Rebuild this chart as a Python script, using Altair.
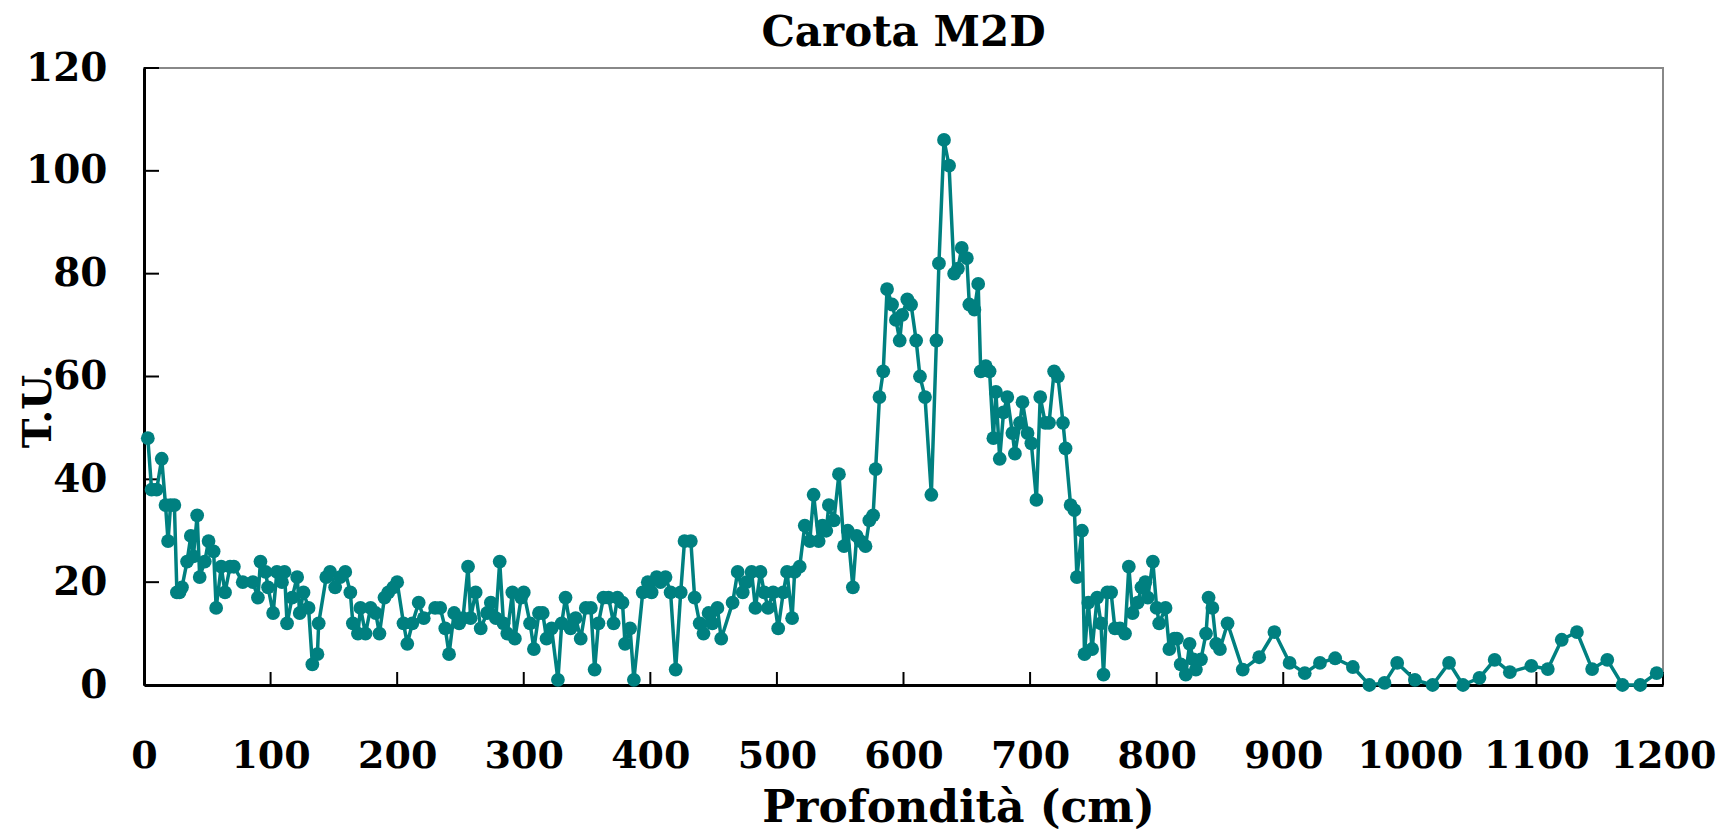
import altair as alt
import pandas as pd

# Depth (cm) and T.U. values, in 100 cm chunks
depth_000 = [3, 6, 10, 14, 17, 19, 21, 24, 26, 28, 30, 34, 37, 39, 42, 44, 48, 51, 55, 57, 61, 64, 68, 71, 78, 86, 90, 92, 96, 98]
tu_000 = [48, 38, 38, 44, 35, 28, 35, 35, 18, 18, 19, 24, 29, 25, 33, 21, 24, 28, 26, 15, 23, 18, 23, 23, 20, 20, 17, 24, 22, 19]
depth_100 = [102, 105, 109, 111, 113, 117, 121, 123, 126, 130, 133, 137, 138, 144, 147, 151, 155, 159, 163, 165, 169, 171, 175, 179, 183, 186, 190, 193, 197]
tu_100 = [14, 22, 20, 22, 12, 17, 21, 14, 18, 15, 4, 6, 12, 21, 22, 19, 21, 22, 18, 12, 10, 15, 10, 15, 14, 10, 17, 18, 19]
depth_200 = [200, 205, 208, 212, 217, 221, 230, 234, 238, 241, 245, 249, 252, 256, 258, 262, 266, 271, 274, 278, 281, 284, 287, 291, 293, 298]
tu_200 = [20, 12, 8, 12, 16, 13, 15, 15, 11, 6, 14, 12, 13, 23, 13, 18, 11, 14, 16, 13, 24, 12, 10, 18, 9, 17]
depth_300 = [300, 305, 308, 312, 315, 318, 322, 327, 330, 333, 337, 341, 345, 349, 353, 356, 359, 363, 367, 371, 374, 378, 380, 384, 387, 394, 398]
tu_300 = [18, 12, 7, 14, 14, 9, 11, 1, 12, 17, 11, 13, 9, 15, 15, 3, 12, 17, 17, 12, 17, 16, 8, 11, 1, 18, 20]
depth_400 = [401, 405, 408, 412, 416, 420, 424, 427, 432, 435, 439, 442, 446, 449, 453, 456, 465, 469, 473, 476, 480, 483, 487, 490, 493, 497]
tu_400 = [18, 21, 20, 21, 18, 3, 18, 28, 28, 17, 12, 10, 14, 12, 15, 9, 16, 22, 18, 20, 22, 15, 22, 18, 15, 18]
depth_500 = [501, 505, 508, 512, 514, 518, 522, 526, 529, 533, 536, 539, 541, 545, 549, 553, 556, 560, 563, 566, 570, 573, 576, 578, 581, 584, 587, 591, 594, 597, 599]
tu_500 = [11, 18, 22, 13, 22, 23, 31, 28, 37, 28, 31, 30, 35, 32, 41, 27, 30, 19, 29, 28, 27, 32, 33, 42, 56, 61, 77, 74, 71, 67, 72]
depth_600 = [603, 606, 610, 613, 617, 622, 626, 628, 632, 636, 640, 643, 646, 650, 652, 656, 659, 661, 665, 668, 671, 673, 676, 679, 682, 686, 688, 692, 694, 698]
tu_600 = [75, 74, 67, 60, 56, 37, 67, 82, 106, 101, 80, 81, 85, 83, 74, 73, 78, 61, 62, 61, 48, 57, 44, 53, 56, 49, 45, 51, 55, 49]
depth_700 = [701, 705, 708, 712, 715, 719, 722, 726, 728, 732, 735, 737, 741, 743, 746, 749, 753, 756, 758, 761, 764, 767, 771, 775, 778, 781, 785, 788, 791, 793, 797]
tu_700 = [47, 36, 56, 51, 51, 61, 60, 51, 46, 35, 34, 21, 30, 6, 16, 7, 17, 12, 2, 18, 18, 11, 11, 10, 23, 14, 16, 19, 20, 17, 24]
depth_800 = [800, 802, 807, 810, 814, 816, 819, 823, 826, 829, 831, 835, 839, 841, 844, 847, 850, 856, 868, 881, 893]
tu_800 = [15, 12, 15, 7, 9, 9, 4, 2, 8, 5, 3, 5, 10, 17, 15, 8, 7, 12, 3, 5.4, 10.3]
depth_900 = [905, 917, 929, 941, 955, 968, 980, 990, 1004, 1018, 1031, 1042, 1055, 1067, 1079, 1096, 1109, 1120, 1132, 1144, 1156, 1168, 1182, 1195]
tu_900 = [4.3, 2.3, 4.3, 5.2, 3.5, 0, 0.4, 4.3, 1, 0, 4.3, 0, 1.4, 4.9, 2.5, 3.7, 3.1, 8.8, 10.3, 3.1, 4.9, 0, 0, 2.3]

x_ticks = [0, 100, 200, 300, 400, 500, 600, 700, 800, 900, 1000, 1100, 1200]
y_ticks = [0, 20, 40, 60, 80, 100, 120]
chart_title = ["Carota M2D"]

depth_cm = (depth_000 + depth_100 + depth_200 + depth_300 + depth_400 +
            depth_500 + depth_600 + depth_700 + depth_800 + depth_900)
tu = (tu_000 + tu_100 + tu_200 + tu_300 + tu_400 +
      tu_500 + tu_600 + tu_700 + tu_800 + tu_900)
assert len(depth_cm) == len(tu)

df = pd.DataFrame({"depth": depth_cm, "tu": tu})
df_xt = pd.DataFrame({"v": x_ticks})
df_yt = pd.DataFrame({"v": y_ticks})
df_title = pd.DataFrame({"t": chart_title})

W, H = 1519, 617
FONT = "DejaVu Serif"
COLOR = "#008080"

xscale = alt.Scale(domain=[0, 1200], nice=False, zero=False)
yscale = alt.Scale(domain=[0, 120], nice=False)

xaxis = alt.Axis(
    values=x_ticks, format="d", title="Profondità (cm)", ticks=False, tickSize=0, grid=False,
    domainColor="black", domainWidth=3,
    labelFont=FONT, labelFontSize=38, labelFontWeight="bold", labelColor="black",
    labelPadding=82, labelBaseline="alphabetic", labelFlush=False, labelOverlap=False,
    titleFont=FONT, titleFontSize=44, titleFontWeight="bold", titleColor="black",
    titleX=814, titleY=136, titleBaseline="alphabetic", titleAlign="center",
)
yaxis = alt.Axis(
    values=y_ticks, format="d", title="T.U.", ticks=False, tickSize=0, grid=False,
    domainColor="black", domainWidth=3,
    labelFont=FONT, labelFontSize=39, labelFontWeight="bold", labelColor="black",
    labelPadding=37, labelAlign="right", labelBaseline="middle",
    labelFlush=False, labelOverlap=False,
    titleFont=FONT, titleFontSize=40, titleFontWeight="bold", titleColor="black",
    titleAngle=270, titleX=-106, titleY=338, titleAlign="center", titleBaseline="middle",
)

ytk = alt.Chart(df_yt).mark_rule(color="black", strokeWidth=2).encode(
    y=alt.Y("v:Q", scale=yscale, axis=yaxis),
    x=alt.value(0), x2=alt.value(15),
)
xtk = alt.Chart(df_xt).mark_rule(color="black", strokeWidth=2).encode(
    x=alt.X("v:Q", scale=xscale, axis=xaxis),
    y=alt.value(H), y2=alt.value(H - 13),
)
line = alt.Chart(df).mark_line(color=COLOR, strokeWidth=3.5).encode(
    x=alt.X("depth:Q", scale=xscale, axis=xaxis),
    y=alt.Y("tu:Q", scale=yscale, axis=yaxis),
)
pts = alt.Chart(df).mark_circle(color=COLOR, size=190, opacity=1).encode(
    x=alt.X("depth:Q", scale=xscale, axis=xaxis),
    y=alt.Y("tu:Q", scale=yscale, axis=yaxis),
)
title_txt = alt.Chart(df_title).mark_text(
    font=FONT, fontSize=42, fontWeight="bold", color="black",
    align="center", baseline="alphabetic",
).encode(text="t:N", x=alt.value(W / 2), y=alt.value(-22))

chart = alt.layer(ytk, xtk, line, pts, title_txt).properties(
    width=W, height=H,
    autosize=alt.AutoSizeParams(type="none"),
    padding={"left": 144, "top": 68, "right": 64, "bottom": 148},
).configure(background="white").configure_view(stroke="#888888", strokeWidth=2)

chart.save("out.html", embed_options={"renderer": "svg", "actions": False})
